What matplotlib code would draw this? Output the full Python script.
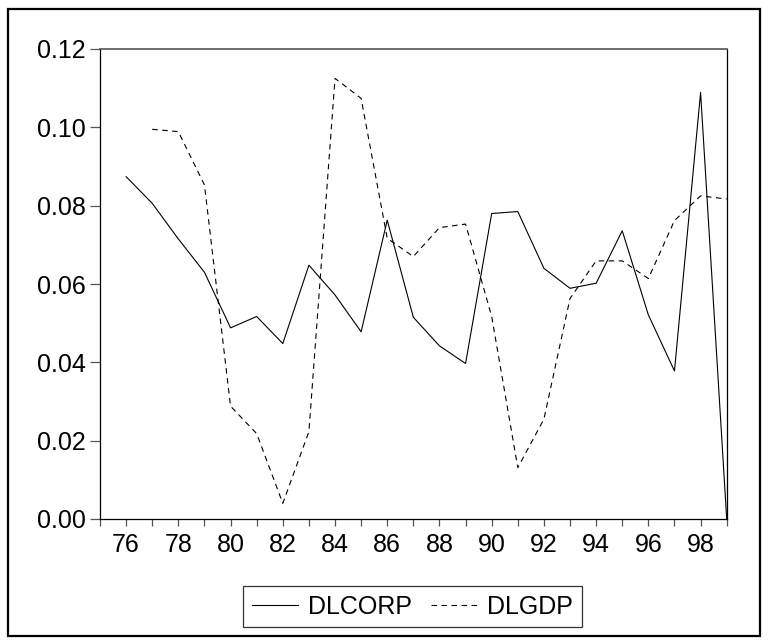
from __future__ import annotations

import matplotlib

matplotlib.use("Agg")

import matplotlib.pyplot as plt
from matplotlib.patches import Rectangle
from matplotlib.ticker import FixedLocator, FormatStrFormatter

# Years (two-digit) and series values
years = list(range(76, 100))
dlcorp = [
    0.0874, 0.0806, 0.0715, 0.0630, 0.0488, 0.0517, 0.0448, 0.0648,
    0.0572, 0.0478, 0.0763, 0.0515, 0.0442, 0.0397, 0.0780, 0.0785,
    0.0640, 0.0589, 0.0602, 0.0736, 0.0521, 0.0378, 0.1089, 0.0000,
]
gdp_years = list(range(77, 100))
dlgdp = [
    0.0995, 0.0989, 0.0853, 0.0288, 0.0218, 0.0040, 0.0223, 0.1125,
    0.1074, 0.0717, 0.0670, 0.0744, 0.0753, 0.0517, 0.0131, 0.0255,
    0.0563, 0.0659, 0.0659, 0.0614, 0.0762, 0.0825, 0.0817,
]
y_ticks = [0.00, 0.02, 0.04, 0.06, 0.08, 0.10, 0.12]
x_labels = list(range(76, 100, 2))

W, H = 768, 644

plt.rcParams["font.family"] = ["Liberation Sans", "DejaVu Sans"]
plt.rcParams["font.size"] = 18

fig = plt.figure(figsize=(W / 100, H / 100), dpi=100)
ax = fig.add_axes([100 / W, 1 - 519 / H, 626.7 / W, 470 / H])

ax.plot(years, dlcorp, color="black", lw=0.8, label="DLCORP")
ax.plot(gdp_years, dlgdp, color="black", lw=0.8, linestyle=(0, (5, 4)),
        label="DLGDP")

ax.set_xlim(75, 99)
ax.set_ylim(0.0, 0.12)

# every year gets a tick, only even years are labelled
ax.xaxis.set_major_locator(FixedLocator(x_labels))
ax.xaxis.set_minor_locator(FixedLocator([y for y in range(75, 100) if y % 2]))
ax.set_xticklabels([str(x) for x in x_labels])
ax.set_yticks(y_ticks)
ax.yaxis.set_major_formatter(FormatStrFormatter("%.2f"))

ax.tick_params(axis="x", which="both", direction="out", length=5,
               width=0.9, color="#555555", pad=5, top=False)
ax.tick_params(axis="y", which="major", direction="out", length=7,
               width=0.9, color="#555555", pad=3, right=False)

for side in ("left", "right", "bottom"):
    ax.spines[side].set_linewidth(0.9)
    ax.spines[side].set_color("black")
ax.spines["top"].set_linewidth(1.2)
ax.spines["top"].set_color("#555555")

leg = fig.legend(
    loc="center",
    bbox_to_anchor=(412.5 / W, 1 - 606.5 / H),
    ncol=2,
    frameon=True,
    fancybox=False,
    edgecolor="black",
    handlelength=1.85,
    handletextpad=0.4,
    columnspacing=0.75,
    borderpad=0.35,
)
leg.get_frame().set_linewidth(0.9)

# outer frame round the whole chart
fig.patches.append(Rectangle((8 / W, 1 - 636 / H), 752 / W, 627 / H,
                             transform=fig.transFigure, fill=False,
                             edgecolor="black", linewidth=1.6))

fig.savefig("out.png", dpi=100)
plt.close(fig)
